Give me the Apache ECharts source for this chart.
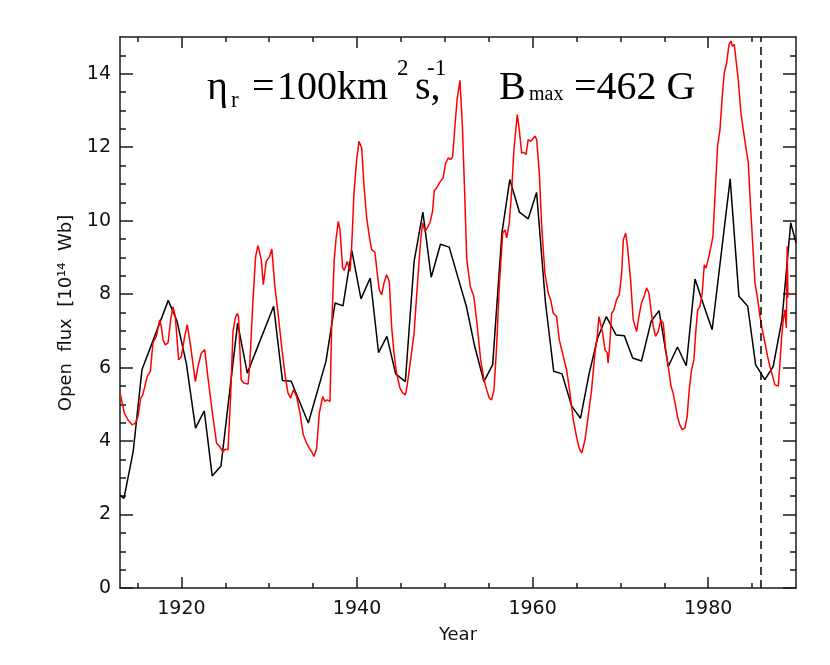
<!DOCTYPE html>
<html>
<head>
<meta charset="utf-8">
<script src="https://cdn.jsdelivr.net/npm/echarts@6/dist/echarts.min.js"></script>
<style>html,body{margin:0;padding:0;background:#fff}#c{width:830px;height:665px}</style>
</head>
<body>
<div id="c"></div>
<script>
// ---- data ----
const blackYears = [1913.0,1913.45,1914.5,1915.5,1918.5,1919.5,1920.55,1921.6,1922.6,1923.5,1924.5,1926.4,1927.5,1930.5,1931.5,1932.5,1934.45,1936.46,1937.5,1938.4,1939.4,1940.45,1941.5,1942.45,1943.4,1944.4,1945.5,1946.5,1947.5,1948.45,1949.5,1950.5,1951.5,1952.45,1953.4,1954.45,1955.45,1956.5,1957.4,1958.5,1959.5,1960.45,1961.45,1962.4,1963.35,1964.45,1965.45,1966.45,1967.4,1968.4,1969.5,1970.45,1971.4,1972.4,1973.5,1974.4,1975.45,1976.5,1977.5,1978.5,1979.4,1980.45,1982.5,1983.5,1984.5,1985.4,1986.45,1987.4,1988.4,1989.4,1990.0];
const blackFlux = [2.53,2.44,3.71,5.94,7.83,7.26,6.12,4.35,4.82,3.05,3.32,7.21,5.85,7.67,5.65,5.63,4.49,6.17,7.76,7.68,9.19,7.87,8.44,6.41,6.85,5.83,5.62,8.89,10.23,8.46,9.36,9.28,8.45,7.67,6.58,5.62,6.08,9.66,11.12,10.23,10.05,10.77,7.8,5.9,5.83,4.95,4.62,5.85,6.80,7.39,6.89,6.87,6.26,6.18,7.26,7.55,6.03,6.56,6.05,8.41,7.76,7.03,11.14,7.94,7.67,6.08,5.67,6.03,7.30,9.94,9.40];

const redYears = [1913.0,1913.5,1913.9,1914.37,1914.75,1915.05,1915.36,1915.6,1916.1,1916.45,1916.76,1917.14,1917.52,1917.7,1917.9,1918.16,1918.47,1918.77,1919.03,1919.3,1919.68,1919.98,1920.37,1920.66,1921.05,1921.58,1921.88,1922.26,1922.65,1923.0,1923.48,1924.0,1924.35,1924.73,1925.0,1925.3,1925.6,1925.87,1926.13,1926.36,1926.5,1926.8,1927.1,1927.58,1927.77,1928.15,1928.45,1928.72,1929.09,1929.32,1929.66,1930.05,1930.3,1930.6,1931.0,1931.45,1931.83,1932.13,1932.44,1932.74,1933.12,1933.5,1933.88,1934.26,1934.56,1934.83,1935.1,1935.4,1935.7,1936.09,1936.35,1936.6,1936.92,1937.11,1937.4,1937.6,1937.86,1938.06,1938.36,1938.55,1938.89,1939.2,1939.39,1939.65,1939.96,1940.22,1940.53,1940.8,1941.1,1941.4,1941.67,1942.04,1942.3,1942.53,1942.8,1943.07,1943.37,1943.67,1943.94,1944.2,1944.5,1944.89,1945.2,1945.5,1945.7,1946.1,1946.5,1946.86,1947.25,1947.47,1947.74,1948.0,1948.3,1948.6,1948.8,1949.06,1949.25,1949.5,1949.8,1950.1,1950.4,1950.66,1950.89,1951.15,1951.4,1951.72,1952.0,1952.26,1952.5,1952.9,1953.3,1953.7,1954.08,1954.46,1954.76,1955.06,1955.33,1955.6,1955.9,1956.2,1956.59,1956.85,1957.04,1957.34,1957.6,1957.87,1958.25,1958.48,1958.75,1959.0,1959.24,1959.5,1959.78,1960.0,1960.27,1960.46,1960.76,1961.03,1961.4,1961.78,1962.05,1962.35,1962.73,1963.03,1963.5,1963.87,1964.25,1964.63,1965.0,1965.3,1965.6,1965.96,1966.33,1966.72,1967.1,1967.36,1967.56,1967.75,1967.98,1968.24,1968.5,1968.6,1968.8,1969.0,1969.26,1969.56,1969.87,1970.14,1970.33,1970.6,1970.8,1971.16,1971.46,1971.85,1972.1,1972.4,1972.7,1972.98,1973.25,1973.48,1973.74,1974.0,1974.3,1974.6,1974.88,1975.15,1975.45,1975.76,1976.0,1976.3,1976.5,1976.77,1977.04,1977.35,1977.6,1977.84,1978.1,1978.37,1978.6,1978.8,1979.06,1979.32,1979.55,1979.74,1980.0,1980.32,1980.54,1980.77,1981.07,1981.34,1981.6,1981.83,1982.1,1982.37,1982.6,1982.74,1982.97,1983.16,1983.42,1983.73,1983.99,1984.27,1984.57,1984.76,1985.02,1985.33,1985.64,1985.9,1986.16,1986.47,1986.77,1987.03,1987.34,1987.6,1987.79,1987.98,1988.17,1988.37,1988.55,1988.74,1988.9,1989.0,1989.08];
const redFlux = [5.32,4.76,4.58,4.44,4.49,4.67,5.17,5.26,5.76,5.89,6.68,6.85,7.30,7.12,6.76,6.62,6.67,7.30,7.65,7.39,6.21,6.30,6.85,7.17,6.58,5.62,6.03,6.39,6.49,5.76,4.85,3.94,3.85,3.71,3.78,3.76,5.21,6.98,7.35,7.48,7.39,5.67,5.58,5.55,6.03,7.85,9.03,9.32,8.94,8.26,8.89,9.03,9.23,8.30,7.48,6.49,5.76,5.31,5.17,5.40,5.21,4.76,4.17,3.94,3.81,3.71,3.58,3.81,4.76,5.21,5.08,5.12,5.08,7.12,8.94,9.48,9.98,9.75,8.71,8.65,8.89,8.62,9.30,10.75,11.66,12.16,11.98,10.93,10.07,9.57,9.21,9.14,8.57,8.12,7.98,8.30,8.53,8.35,7.12,6.40,5.85,5.44,5.31,5.26,5.49,6.21,6.94,8.21,9.48,9.94,9.71,9.80,9.94,10.25,10.82,10.89,10.84,11.07,11.16,11.57,11.71,11.66,11.75,12.57,13.30,13.82,12.57,10.75,8.94,8.21,7.94,7.12,6.21,5.67,5.40,5.17,5.12,5.40,6.58,8.21,9.66,9.75,9.53,9.94,10.75,11.93,12.89,12.48,11.84,11.86,11.80,12.21,12.16,12.21,12.30,12.21,11.30,9.85,8.57,8.03,7.85,7.48,7.39,6.76,6.30,5.94,5.31,4.58,4.12,3.81,3.67,4.03,4.67,5.40,6.40,6.85,7.39,7.39,6.94,6.49,6.40,6.12,6.67,7.48,7.57,7.85,7.98,8.57,9.48,9.66,9.30,8.39,7.30,6.98,7.39,7.76,7.94,8.17,8.03,7.57,7.12,6.85,6.98,7.30,7.21,6.49,6.03,5.49,5.31,4.94,4.67,4.44,4.31,4.35,4.67,5.40,5.94,6.21,7.03,7.57,7.67,8.03,8.80,8.71,8.94,9.30,9.57,10.66,12.03,12.48,13.39,14.02,14.30,14.80,14.89,14.75,14.80,14.75,13.84,12.93,12.48,12.03,11.57,10.66,9.57,8.30,7.85,7.39,7.03,6.67,6.30,6.03,5.76,5.53,5.49,5.50,6.12,6.85,7.30,7.57,7.08,9.30,7.9];

const xMajorTicks = [1920, 1940, 1960, 1980];
const xMinorTicks = [1915, 1925, 1930, 1935, 1945, 1950, 1955, 1965, 1970, 1975, 1985];
const yMajorTicks = [0, 2, 4, 6, 8, 10, 12, 14];
const yMinorTicks = [0.5, 1, 1.5, 2.5, 3, 3.5, 4.5, 5, 5.5, 6.5, 7, 7.5, 8.5, 9, 9.5, 10.5, 11, 11.5, 12.5, 13, 13.5, 14.5];
const markerYear = 1986;
const xRange = [1913, 1990];
const yRange = [0, 15];

// ---- chart ----
const zip = (xs, ys) => xs.map((x, i) => [x, ys[i]]);
const AX = '#1a1a1a';
const labelFont = { fontFamily: 'DejaVu Sans', fontSize: 19, color: '#111', formatter: v => String(v) };

function xAx(pos, ticks, len, showLine, showLabel) {
  return {
    type: 'value', position: pos, min: xRange[0], max: xRange[1],
    axisLine: { show: showLine, onZero: false, lineStyle: { color: AX, width: 1.5 } },
    axisTick: { show: true, inside: true, length: len, customValues: ticks, lineStyle: { color: AX, width: 1.5 } },
    axisLabel: showLabel ? Object.assign({ show: true, customValues: ticks, margin: 12 }, labelFont) : { show: false },
    splitLine: { show: false }
  };
}
function yAx(pos, ticks, len, showLine, showLabel) {
  return {
    type: 'value', position: pos, min: yRange[0], max: yRange[1],
    axisLine: { show: showLine, onZero: false, lineStyle: { color: AX, width: 1.5 } },
    axisTick: { show: true, inside: true, length: len, customValues: ticks, lineStyle: { color: AX, width: 1.5 } },
    axisLabel: showLabel ? Object.assign({ show: true, customValues: ticks, margin: 9 }, labelFont) : { show: false },
    splitLine: { show: false }
  };
}

const serif = '"Liberation Serif", "Times New Roman", serif';
function t(text, x, y, size) {
  return { type: 'text', x: x, y: y, silent: true,
    style: { text: text, font: size + 'px ' + serif, fill: '#000', align: 'left', verticalAlign: 'middle', textAlign: 'left', textVerticalAlign: 'middle' } };
}

const chart = echarts.init(document.getElementById('c'), null, { renderer: 'canvas' });
chart.setOption({
  animation: false,
  backgroundColor: '#fff',
  grid: { left: 120, right: 34, top: 37, bottom: 77 },
  xAxis: [
    xAx('bottom', xMajorTicks, 11, true, true),
    xAx('bottom', xMinorTicks, 5, false, false),
    xAx('top', xMajorTicks, 11, true, false),
    xAx('top', xMinorTicks, 5, false, false)
  ],
  yAxis: [
    yAx('left', yMajorTicks, 13, true, true),
    yAx('left', yMinorTicks, 6, false, false),
    yAx('right', yMajorTicks, 13, true, false),
    yAx('right', yMinorTicks, 6, false, false)
  ],
  series: [
    {
      type: 'line', name: 'observed', data: zip(blackYears, blackFlux),
      showSymbol: false, symbol: 'none', lineStyle: { color: '#000', width: 1.5 },
      markLine: {
        silent: true, symbol: ['none', 'none'], label: { show: false },
        lineStyle: { color: '#000', type: [8, 5], width: 1.5 },
        data: [{ xAxis: markerYear }]
      }
    },
    {
      type: 'line', name: 'model', data: zip(redYears, redFlux),
      showSymbol: false, symbol: 'none', lineStyle: { color: '#ff0000', width: 1.5 }
    }
  ],
  graphic: [
    t('η', 207, 88, 40),
    t('r', 231, 101, 23),
    t('=', 252, 88, 40),
    t('100km', 277, 88, 40),
    t('2', 397, 69, 23),
    t('s,', 415, 88, 40),
    t('-1', 427, 69, 23),
    t('B', 499, 88, 40),
    t('max', 529, 95, 20),
    t('=462 G', 574, 88, 40),
    { type: 'text', x: 66, y: 313, rotation: Math.PI / 2, silent: true,
      style: { text: 'Open  flux  [10¹⁴  Wb]', font: '18px "DejaVu Sans"', fill: '#111', align: 'center', verticalAlign: 'middle', textAlign: 'center', textVerticalAlign: 'middle' } },
    { type: 'text', x: 458, y: 635, silent: true,
      style: { text: 'Year', font: '18px "DejaVu Sans"', fill: '#111', align: 'center', verticalAlign: 'middle', textAlign: 'center', textVerticalAlign: 'middle' } }
  ]
});
</script>
</body>
</html>
